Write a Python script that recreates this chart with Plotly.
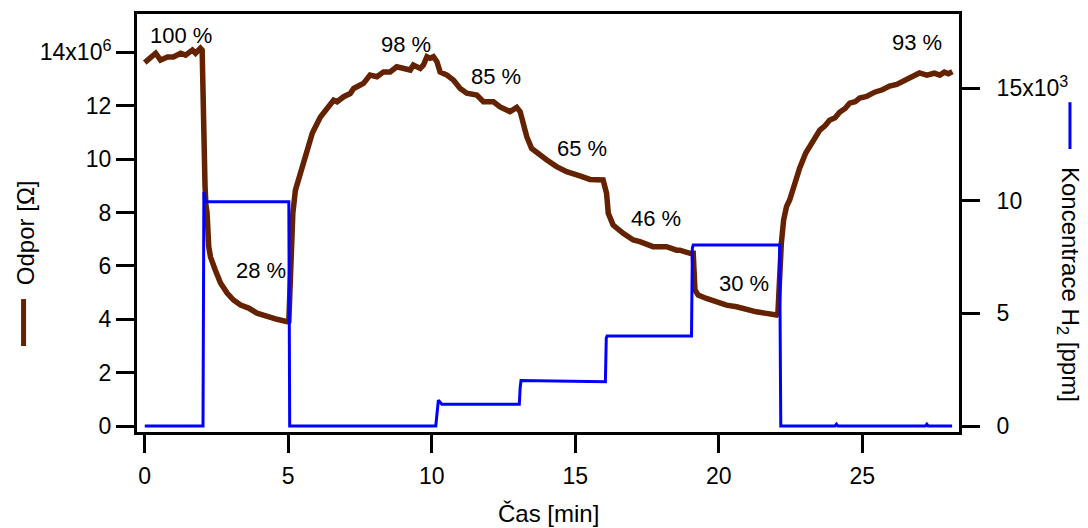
import plotly.graph_objects as go

# Resistance of the sensor (units of 10^6 Ohm) versus time in minutes
time_r = [0.00, 0.20, 0.38, 0.55, 0.79, 1.00, 1.25, 1.42, 1.66, 1.77, 1.94, 2.00,
          2.02, 2.04, 2.06, 2.10, 2.13, 2.17, 2.23, 2.29, 2.46, 2.64, 2.87, 3.09,
          3.34, 3.62, 3.91, 4.26, 4.61, 4.96, 5.02, 5.06, 5.11, 5.16, 5.25, 5.42,
          5.60, 5.84, 6.12, 6.30, 6.47, 6.58, 6.70, 6.93, 7.16, 7.28, 7.51, 7.62,
          7.85, 8.09, 8.32, 8.55, 8.78, 9.02, 9.25, 9.36, 9.60, 9.71, 9.83, 9.94,
          10.06, 10.18, 10.29, 10.53, 10.76, 10.99, 11.22, 11.57, 11.80, 12.15, 12.38, 12.73,
          12.96, 13.08, 13.19, 13.31, 13.48, 13.77, 14.01, 14.35, 14.70, 15.16, 15.51, 15.97,
          16.09, 16.15, 16.32, 16.67, 17.02, 17.25, 17.71, 17.95, 18.18, 18.53, 18.64, 19.00,
          19.11, 19.17, 19.28, 19.57, 19.92, 20.27, 20.62, 20.96, 21.31, 21.66, 22.01, 22.06,
          22.10, 22.15, 22.18, 22.26, 22.36, 22.47, 22.64, 22.82, 23.03, 23.24, 23.40, 23.52,
          23.70, 23.86, 24.05, 24.21, 24.40, 24.56, 24.75, 24.91, 25.15, 25.43, 25.70, 25.95,
          26.20, 26.47, 26.70, 26.99, 27.25, 27.51, 27.70, 27.86, 28.00, 28.14]
resistance = [13.62, 13.83, 13.97, 13.71, 13.83, 13.83, 13.97, 13.90, 14.09, 13.97, 14.16, 14.09,
              12.20, 10.34, 10.30, 9.00, 8.30, 8.00, 6.72, 6.34, 5.84, 5.36, 4.98, 4.72,
              4.53, 4.42, 4.23, 4.10, 4.00, 3.91, 3.93, 5.10, 6.59, 7.98, 8.84, 9.48,
              10.23, 10.98, 11.58, 11.85, 12.09, 12.21, 12.15, 12.34, 12.46, 12.65, 12.78, 12.84,
              13.15, 13.09, 13.27, 13.27, 13.46, 13.40, 13.34, 13.53, 13.40, 13.53, 13.84, 13.78,
              13.84, 13.65, 13.27, 13.15, 12.96, 12.65, 12.47, 12.40, 12.15, 12.15, 11.96, 11.78,
              11.94, 11.78, 11.21, 10.84, 10.40, 10.15, 9.97, 9.72, 9.53, 9.37, 9.24, 9.22,
              8.72, 7.97, 7.53, 7.22, 6.97, 6.91, 6.72, 6.72, 6.72, 6.59, 6.59, 6.47,
              6.47, 5.10, 4.91, 4.78, 4.66, 4.53, 4.47, 4.35, 4.28, 4.22, 4.16, 4.22,
              5.35, 6.22, 6.85, 7.72, 8.22, 8.47, 9.10, 9.67, 10.23, 10.64, 10.85, 11.09,
              11.25, 11.46, 11.55, 11.76, 11.90, 12.10, 12.15, 12.29, 12.35, 12.51, 12.60, 12.74,
              12.80, 12.96, 13.05, 13.23, 13.15, 13.22, 13.15, 13.26, 13.20, 13.28]

# Hydrogen concentration (units of 10^3 ppm) versus time in minutes
time_c = [0.00, 2.03, 2.06, 2.12, 5.02, 5.05, 10.14, 10.18, 10.23, 10.35, 13.05, 13.08,
          13.11, 16.05, 16.08, 16.11, 19.05, 19.08, 19.11, 22.12, 22.16, 24.05, 24.10, 24.15,
          27.20, 27.25, 27.30, 28.13]
concentration = [0.00, 0.00, 10.39, 9.96, 9.96, 0.00, 0.00, 0.60, 1.15, 0.97, 0.97, 1.70,
                 2.02, 1.97, 3.90, 4.00, 4.00, 7.90, 8.03, 8.03, 0.00, 0.00, 0.08, 0.00,
                 0.00, 0.08, 0.00, 0.00]

# Percentage labels placed beside the curve
label_text = ["100 %", "28 %", "98 %", "85 %", "65 %", "46 %", "30 %", "93 %"]
label_time = [1.25, 4.06, 9.11, 12.24, 15.22, 17.81, 20.89, 26.92]
label_res = [14.65, 5.81, 14.31, 13.09, 10.40, 7.77, 5.34, 14.39]

x_ticks = [0, 5, 10, 15, 20, 25]
y_ticks = [0, 2, 4, 6, 8, 10, 12, 14]
y_ticktext = ["0", "2", "4", "6", "8", "10", "12", "14x10<sup>6</sup>"]
y2_ticks = [0, 5, 10, 15]
y2_ticktext = ["0", "5", "10", "15x10<sup>3</sup>"]

BROWN = "#652200"
BLUE = "#0000ff"
FONT = "Liberation Sans, Arial, sans-serif"

fig = go.Figure()
fig.add_trace(go.Scatter(x=time_r, y=resistance, mode="lines",
                         line=dict(color=BROWN, width=5.5), yaxis="y", showlegend=False))
fig.add_trace(go.Scatter(x=time_c, y=concentration, mode="lines",
                         line=dict(color=BLUE, width=3), yaxis="y2", showlegend=False))

axis_common = dict(showgrid=False, zeroline=False, showline=True, linecolor="black",
                   linewidth=3, ticks="outside", ticklen=18, tickwidth=3,
                   tickcolor="black", tickfont=dict(family=FONT, size=23, color="black"))

fig.update_layout(
    width=1088, height=528,
    margin=dict(l=137, r=129, t=14, b=96),
    paper_bgcolor="white", plot_bgcolor="white",
    font=dict(family=FONT, color="black"),
    xaxis=dict(range=[-0.27, 28.37], tickvals=x_ticks, mirror=True,
               ticklabelstandoff=3, **axis_common),
    yaxis=dict(range=[-0.225, 15.44], tickvals=y_ticks, ticktext=y_ticktext, **axis_common),
    yaxis2=dict(range=[-0.266, 18.29], tickvals=y2_ticks, ticktext=y2_ticktext,
                overlaying="y", side="right", ticklabelstandoff=12, **axis_common),
)

for txt, tx, ry in zip(label_text, label_time, label_res):
    fig.add_annotation(x=tx, y=ry, xref="x", yref="y", text=txt, showarrow=False,
                       xanchor="center", yanchor="middle",
                       font=dict(family=FONT, size=22, color="black"))

# Axis titles
fig.add_annotation(x=0.5, y=-0.1938, xref="paper", yref="paper", text="Čas [min]",
                   showarrow=False, xanchor="center", yanchor="middle",
                   font=dict(family=FONT, size=24, color="black"))
fig.add_annotation(x=-0.1363, y=0.478, xref="paper", yref="paper", text="Odpor [Ω]",
                   showarrow=False, textangle=-90, xanchor="center", yanchor="middle",
                   font=dict(family=FONT, size=24, color="black"))
fig.add_annotation(x=1.1326, y=0.3517, xref="paper", yref="paper",
                   text="Koncentrace H<sub>2</sub> [ppm]",
                   showarrow=False, textangle=90, xanchor="center", yanchor="middle",
                   font=dict(family=FONT, size=24, color="black"))

# Line-style keys next to the axis titles
fig.add_shape(type="line", xref="paper", yref="paper", x0=-0.138, x1=-0.138,
              y0=0.2057, y1=0.318, line=dict(color=BROWN, width=5))
fig.add_shape(type="line", xref="paper", yref="paper", x0=1.135, x1=1.135,
              y0=0.677, y1=0.789, line=dict(color=BLUE, width=3))

fig.write_html("out.html")
